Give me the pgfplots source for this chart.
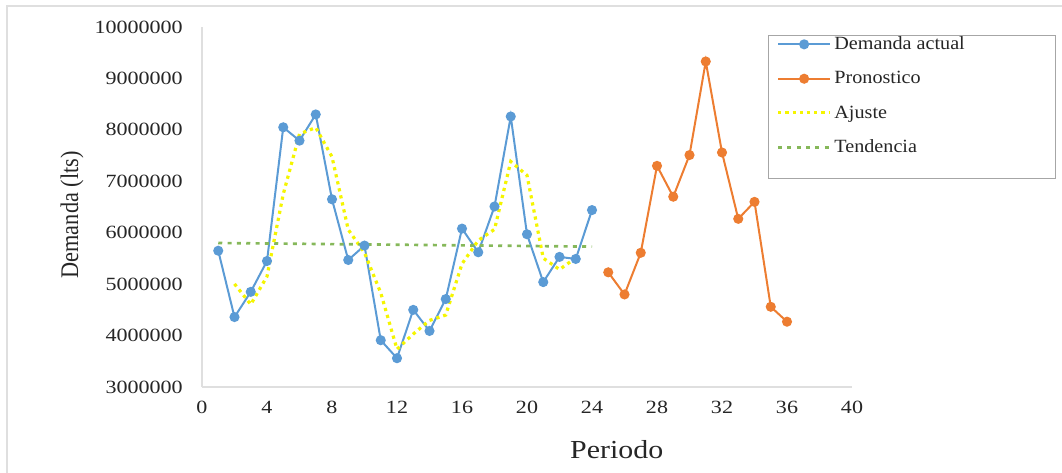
\documentclass[border=0pt]{standalone}
\usepackage{fontspec}
\setmainfont{Liberation Serif}
\newfontfamily\tickfont{Liberation Serif}[FakeStretch=1.18]
\newfontfamily\legfont{Liberation Serif}[FakeStretch=1.08]
\newfontfamily\xlabfont{Liberation Serif}[FakeStretch=1.15]
\newfontfamily\ylabfont{Liberation Serif}[FakeStretch=0.88]
\usepackage{pgfplots}
\pgfplotsset{compat=1.18}
\definecolor{cblue}{HTML}{5B9BD5}
\definecolor{corange}{HTML}{ED7D31}
\definecolor{cyellow}{HTML}{F5F500}
\definecolor{cgreen}{HTML}{86B85A}
\definecolor{ctext}{HTML}{262626}
\begin{document}
\begin{tikzpicture}
\useasboundingbox (-151.5pt,-63.75pt) rectangle (645pt,290.25pt);
\draw[gray!25, line width=1pt] (-146.25pt,-120pt) -- (-146.25pt,285.75pt) -- (720pt,285.75pt);
\begin{axis}[
  scale only axis,
  width=487.5pt, height=270pt,
  xmin=0, xmax=40, ymin=3000000, ymax=10000000,
  xtick={0,4,...,40},
  ytick={3000000,4000000,5000000,6000000,7000000,8000000,9000000,10000000},
  yticklabels={3000000,4000000,5000000,6000000,7000000,8000000,9000000,10000000},
  scaled y ticks=false,
  axis lines=left,
  axis line style={draw=gray!25, line width=1pt, -},
  major tick length=0pt,
  /pgf/number format/assume math mode=true,
  tick label style={font=\tickfont\fontsize{14}{16}\selectfont, text=ctext},
  yticklabel style={xshift=-11pt},
  xticklabel style={yshift=-7pt},
  xlabel={Periodo},
  ylabel={Demanda (lts)},
  xlabel style={at={(axis description cs:0.638,-0.175)}, anchor=center, font=\xlabfont\fontsize{19.5}{22}\selectfont, text=ctext},
  ylabel style={at={(axis description cs:-0.200,0.478)}, anchor=center, font=\ylabfont\fontsize{19}{22}\selectfont, text=ctext},
  legend style={at={(axis description cs:0.8708,0.9778)}, anchor=north west,
    draw=gray!70, line width=0.8pt, font=\legfont\fontsize{14}{16}\selectfont, text=ctext,
    row sep=12.8pt, inner xsep=6pt, inner ysep=0pt, nodes={inner ysep=1pt}},
  legend cell align=left,
  legend image code/.code={\draw[mark repeat=2,mark phase=2,#1] plot coordinates {(0pt,0pt) (19.5pt,0pt) (39pt,0pt)};},
  clip=false,
]
\addplot[cblue, line width=1.5pt, mark=*, mark size=3pt, mark options={solid, fill=cblue}] coordinates {
(1,5650000) (2,4360000) (3,4850000) (4,5450000) (5,8050000) (6,7790000)
(7,8300000) (8,6650000) (9,5470000) (10,5750000) (11,3910000) (12,3560000)
(13,4500000) (14,4090000) (15,4710000) (16,6080000) (17,5620000) (18,6510000)
(19,8260000) (20,5970000) (21,5040000) (22,5530000) (23,5490000) (24,6440000)};
\addlegendentry{\makebox[158pt][l]{Demanda actual}}
\addplot[corange, line width=1.5pt, mark=*, mark size=3pt, mark options={solid, fill=corange}] coordinates {
(25,5230000) (26,4800000) (27,5610000) (28,7300000) (29,6700000) (30,7510000)
(31,9330000) (32,7560000) (33,6270000) (34,6600000) (35,4560000) (36,4270000)};
\addlegendentry{Pronostico}
\addplot[cyellow, line width=2.4pt, dash pattern=on 2.4pt off 3pt] coordinates {
(2,5005000) (3,4605000) (4,5150000) (5,6750000) (6,7920000) (7,8045000)
(8,7475000) (9,6060000) (10,5610000) (11,4830000) (12,3735000) (13,4030000)
(14,4295000) (15,4400000) (16,5395000) (17,5850000) (18,6065000) (19,7385000)
(20,7115000) (21,5505000) (22,5285000) (23,5510000)};
\addlegendentry{Ajuste}
\addplot[cgreen, line width=2pt, dash pattern=on 3pt off 4pt] coordinates {
(1,5800000) (24,5730000)};
\addlegendentry{Tendencia}
\addlegendimage{empty legend}
\addlegendentry{\rule{0pt}{0.5pt}}
\end{axis}
\end{tikzpicture}
\end{document}
